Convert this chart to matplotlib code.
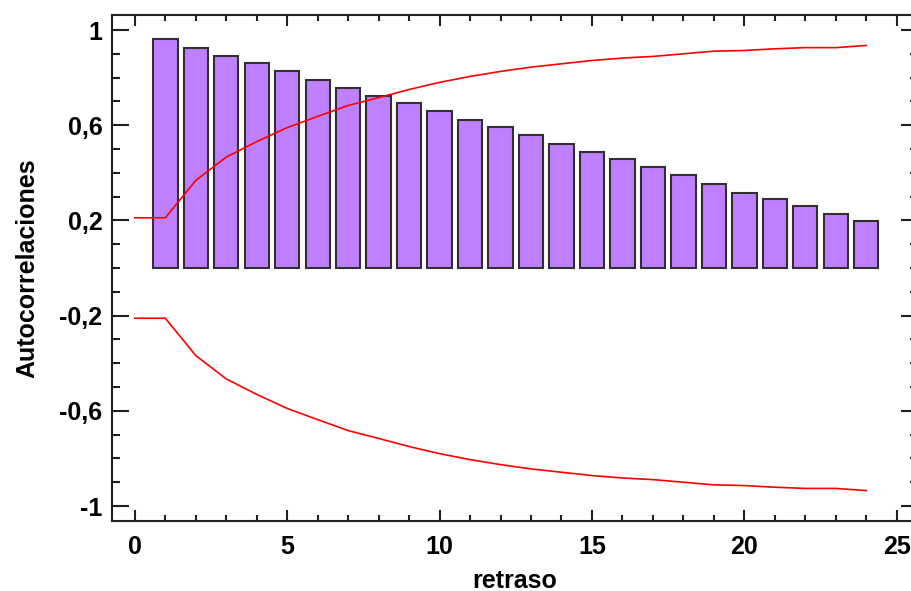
"""
plot.py  —  Autocorrelation chart (ACF) with red probability limits.
"""

import matplotlib
matplotlib.use("Agg")
import matplotlib.pyplot as plt
from matplotlib.ticker import MultipleLocator, FixedLocator, FuncFormatter

LAGS      = list(range(1, 25))
ACF       = [0.963, 0.926, 0.892, 0.863, 0.829, 0.792, 0.757, 0.722,
             0.692, 0.658, 0.623, 0.593, 0.558, 0.523, 0.488, 0.459,
             0.424, 0.390, 0.354, 0.317, 0.289, 0.260, 0.225, 0.197]
LIM_LAGS  = list(range(0, 25))
UPPER     = [0.211, 0.211, 0.368, 0.466, 0.531, 0.590, 0.637, 0.683,
             0.716, 0.750, 0.780, 0.805, 0.826, 0.844, 0.858, 0.872,
             0.882, 0.889, 0.900, 0.911, 0.914, 0.921, 0.926, 0.926, 0.935]
LOWER     = [-0.211, -0.211, -0.368, -0.466, -0.531, -0.590, -0.637, -0.683,
             -0.716, -0.750, -0.780, -0.805, -0.826, -0.844, -0.858, -0.872,
             -0.882, -0.889, -0.900, -0.911, -0.914, -0.921, -0.926, -0.926, -0.935]
Y_MAJOR   = [-1, -0.6, -0.2, 0.2, 0.6, 1]
X_MAJOR   = [0, 5, 10, 15, 20, 25]

BAR_COL   = "#bf80ff"
EDGE_COL  = "#303030"
LIM_COL   = "#ff0000"

plt.rcParams["font.family"] = ["Liberation Sans", "DejaVu Sans"]
plt.rcParams["font.weight"] = "bold"

fig = plt.figure(figsize=(9.12, 5.91), dpi=100)
ax = fig.add_axes([0.1228, 0.1184, 0.8838, 0.8562])

ax.bar(LAGS, ACF, width=0.8, color=BAR_COL, edgecolor=EDGE_COL, linewidth=1.5, zorder=2)
ax.plot(LIM_LAGS, UPPER, color=LIM_COL, linewidth=1.2, zorder=3)
ax.plot(LIM_LAGS, LOWER, color=LIM_COL, linewidth=1.2, zorder=3)

ax.set_xlim(-0.75, 25.7)
ax.set_ylim(-1.063, 1.063)

comma = FuncFormatter(lambda v, _: f"{v:g}".replace(".", ","))
ax.yaxis.set_major_locator(FixedLocator(Y_MAJOR))
ax.yaxis.set_minor_locator(MultipleLocator(0.1))
ax.yaxis.set_major_formatter(comma)
ax.xaxis.set_major_locator(FixedLocator(X_MAJOR))
ax.xaxis.set_minor_locator(MultipleLocator(1))

for s in ax.spines.values():
    s.set_linewidth(1.5); s.set_color("#202020")

ax.tick_params(axis="both", which="both", direction="in", top=True, right=True,
               width=1.5, color="#202020", labelsize=18)
ax.tick_params(axis="y", which="major", length=12, pad=7)
ax.tick_params(axis="y", which="minor", length=6)
ax.tick_params(axis="x", which="major", length=8, pad=10)
ax.tick_params(axis="x", which="minor", length=4.5)

ax.set_xlabel("retraso", fontsize=18, fontweight="bold", labelpad=7)
ax.set_ylabel("Autocorrelaciones", fontsize=18, fontweight="bold", labelpad=14)

fig.savefig("out.png", dpi=100)
